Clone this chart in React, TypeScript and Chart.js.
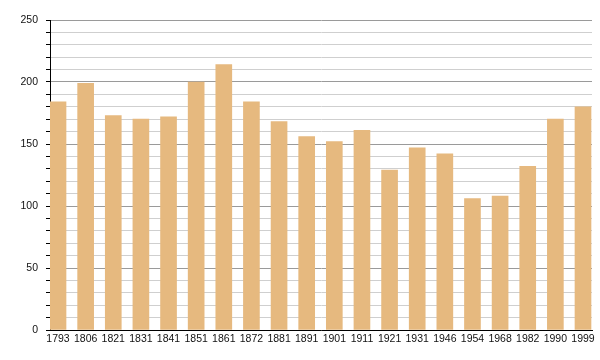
import React, { useEffect, useRef } from "react";
import { Chart, registerables } from "chart.js";

Chart.register(...registerables);

const years = ["1793", "1806", "1821", "1831", "1841", "1851", "1861", "1872", "1881", "1891", "1901", "1911", "1921", "1931", "1946", "1954", "1968", "1982", "1990", "1999"];
const population = [184, 199, 173, 170, 172, 200, 214, 184, 168, 156, 152, 161, 129, 147, 142, 106, 108, 132, 170, 180];
const yMax = 250;
const yStep = 10;
const yLabelStep = 50;

export default function App() {
  const ref = useRef<HTMLCanvasElement | null>(null);
  useEffect(() => {
    if (!ref.current) return;
    const chart = new Chart(ref.current, {
      type: "bar",
      data: {
        datasets: [
          {
            data: population.map((v, i) => ({ x: i, y: v })),
            backgroundColor: "#e6b97f",
            borderWidth: 0,
            barThickness: 16,
          },
        ],
      },
      options: {
        animation: false,
        responsive: true,
        maintainAspectRatio: false,
        layout: { padding: { left: 0, right: 8, top: 20, bottom: 0 } },
        plugins: { legend: { display: false }, tooltip: { enabled: false } },
        scales: {
          x: {
            type: "linear",
            offset: false,
            min: -0.29,
            max: 19.326,
            afterBuildTicks: (scale: any) => {
              scale.ticks = years.map((_, i) => ({ value: i }));
            },
            afterFit: (scale: any) => {
              scale.height = 30;
            },
            grid: { display: false, drawTicks: false },
            border: { display: true, color: "#000", width: 1 },
            ticks: {
              autoSkip: false,
              maxRotation: 0,
              padding: 3,
              color: "#111",
              font: { family: "'Liberation Sans', Arial, sans-serif", size: 10.5 },
              callback: (v: any) => years[v] ?? "",
            },
          },
          y: {
            min: 0,
            max: yMax,
            afterFit: (scale: any) => {
              scale.width = 50;
            },
            ticks: {
              stepSize: yStep,
              autoSkip: false,
              padding: 8,
              color: "#111",
              font: { family: "'Liberation Sans', Arial, sans-serif", size: 10.5 },
              callback: (v: any) => (Number(v) % yLabelStep === 0 ? String(v) : ""),
            },
            grid: {
              color: (ctx: any) => (ctx.tick && ctx.tick.value % yLabelStep === 0 ? "#9a9a9a" : "#cfcfcf"),
              tickColor: "#000",
              tickLength: 4,
              lineWidth: 1,
            },
            border: { display: true, color: "#000", width: 1 },
          },
        },
      },
    });
    return () => chart.destroy();
  }, []);
  return (
    <div style={{ position: "fixed", left: 0, top: 0, width: 600, height: 360, background: "#fff" }}>
      <canvas ref={ref} />
    </div>
  );
}
